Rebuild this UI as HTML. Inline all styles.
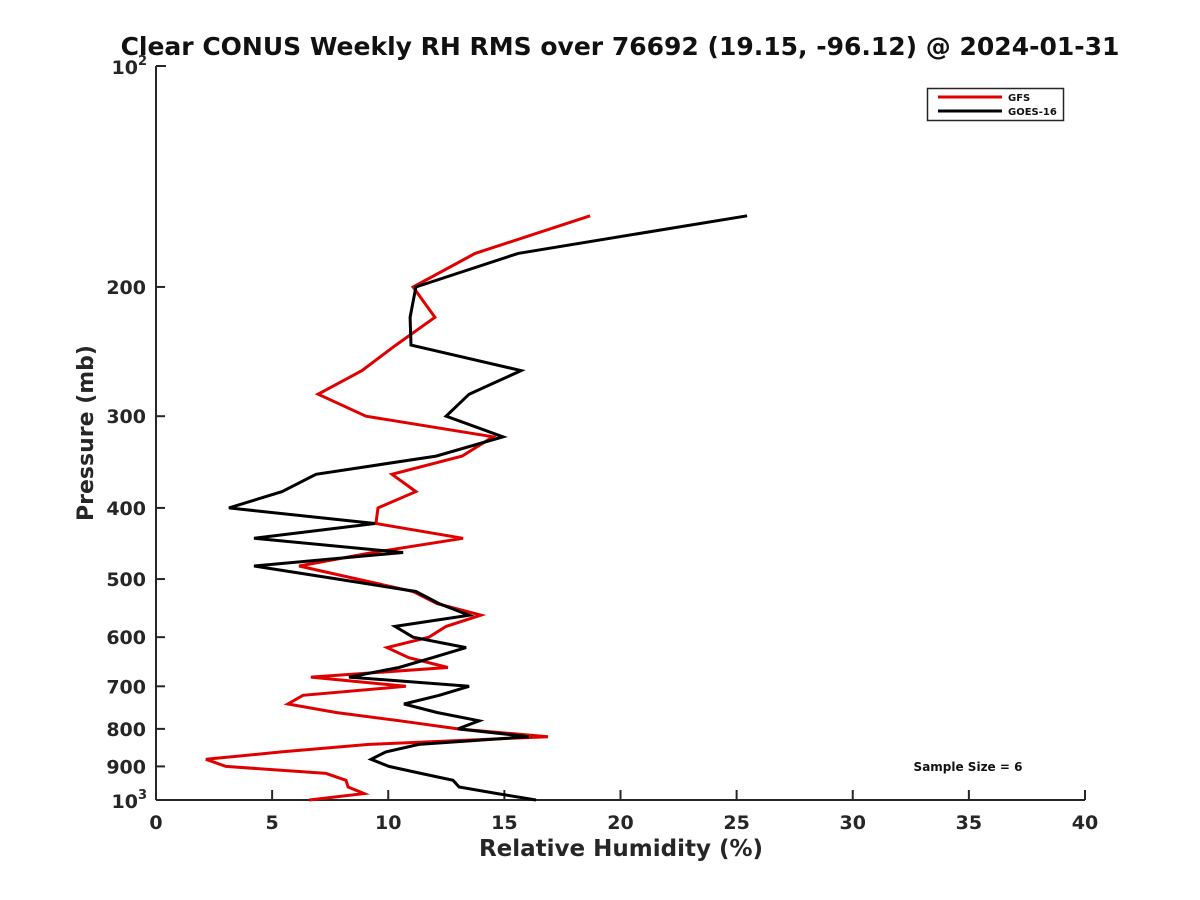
<!DOCTYPE html>
<html><head><meta charset="utf-8"><style>
body{margin:0;background:#fff;}
svg{display:block;font-family:"DejaVu Sans","Liberation Sans",sans-serif;font-weight:bold;}
</style></head><body>
<svg id="chart" width="1200" height="900" viewBox="0 0 1200 900">
<rect width="1200" height="900" fill="#fff"/>
<text x="620" y="55" text-anchor="middle" font-size="25" fill="#111">Clear CONUS Weekly RH RMS over 76692 (19.15, -96.12) @ 2024-01-31</text>
<g id="axes"></g>
<g id="series"></g>
<g>
<rect x="927.5" y="88.5" width="136" height="32" fill="#fff" stroke="#262626" stroke-width="1.5"/>
<line x1="938" y1="97" x2="1002" y2="97" stroke="#e00000" stroke-width="3"/>
<text x="1008" y="101" font-size="10" fill="#111">GFS</text>
<line x1="938" y1="111" x2="1002" y2="111" stroke="#000" stroke-width="3"/>
<text x="1008" y="115" font-size="10" fill="#111">GOES-16</text>
</g>
<text x="968" y="771" text-anchor="middle" font-size="12" fill="#111">Sample Size = 6</text>
<text x="621" y="856" text-anchor="middle" font-size="23" fill="#262626">Relative Humidity (%)</text>
<text transform="translate(93,433) rotate(-90)" text-anchor="middle" font-size="22" fill="#262626">Pressure (mb)</text>
</svg>
<script>
const pressures = [160,180,200,220,240,260,280,300,320,340,360,380,400,420,440,460,480,500,520,540,560,580,600,620,640,660,680,700,720,740,760,780,800,820,840,860,880,900,920,940,960,980,1000];
const gfsRH = [18.69,13.74,11.07,12.01,10.33,8.87,6.98,9.04,14.51,13.18,10.16,11.19,9.56,9.47,13.22,9.34,6.16,8.65,11.07,12.1,13.99,12.49,11.75,9.95,10.89,12.57,6.67,10.76,6.33,5.68,7.75,10.5,13.0,16.88,9.17,5.4,2.15,3.01,7.32,8.18,8.27,8.96,6.59];
const goesRH = [25.45,15.59,11.19,10.94,10.98,15.72,13.48,12.49,14.94,12.06,6.89,5.43,3.14,9.43,4.22,10.64,4.22,7.8,11.19,12.19,13.48,10.29,11.07,13.35,11.9,10.46,8.31,13.48,12.2,10.68,12.1,13.91,13.0,16.06,11.32,9.9,9.26,10.03,11.4,12.79,13.05,14.7,16.36];
const xTicks = [0,5,10,15,20,25,30,35,40];
const yTicks = [200,300,400,500,600,700,800,900];

const L=156,R=1085,T=66,B=800;
const xs = v => L + (v/40)*(R-L);
const ys = p => T + (Math.log10(p)-2)*(B-T);
const NS='http://www.w3.org/2000/svg';
function mk(tag, attrs, parent){const e=document.createElementNS(NS,tag);for(const k in attrs)e.setAttribute(k,attrs[k]);parent.appendChild(e);return e;}
const axes=document.getElementById('axes');
const series=document.getElementById('series');
const ax='#262626';
let yl=mk('line',{x1:L,y1:T,x2:L,y2:B,stroke:ax,'stroke-width':2},axes);


let xl=mk('line',{x1:L,y1:B,x2:R,y2:B,stroke:ax,'stroke-width':2},axes);


let tt=mk('line',{x1:L,y1:T,x2:L+10,y2:T,stroke:ax,'stroke-width':2},axes);


xTicks.forEach(v=>{
  const x=xs(v);
  const t=mk('line',{x1:x,y1:B,x2:x,y2:B-10,stroke:ax,'stroke-width':2},axes);
  
  
  const lb=mk('text',{x:x,y:B+29,'text-anchor':'middle','font-size':19,fill:ax},axes);
  
  
  lb.textContent=v;
});
yTicks.forEach(p=>{
  const y=ys(p);
  const t=mk('line',{x1:L,y1:y,x2:L+9,y2:y,stroke:ax,'stroke-width':2},axes);
  
  
  const lb=mk('text',{x:L-10,y:y+7,'text-anchor':'end','font-size':19,fill:ax},axes);
  
  
  lb.textContent=p;
});
[[2,T],[3,B]].forEach(([e,y])=>{
  const lb=mk('text',{x:L-9,y:y+8,'text-anchor':'end','font-size':19,fill:ax},axes);
  
  
  lb.innerHTML='10<tspan dy="-9" font-size="13">'+e+'</tspan>';
});
function line(vals,color,name){
  const pts=vals.map((v,i)=>xs(v).toFixed(1)+','+ys(pressures[i]).toFixed(1)).join(' ');
  const pl=mk('polyline',{points:pts,fill:'none',stroke:color,'stroke-width':3,'stroke-linejoin':'miter'},series);
  
  
}
line(gfsRH,'#e00000','gfs-line');
line(goesRH,'#000','goes16-line');
</script>
</body></html>
